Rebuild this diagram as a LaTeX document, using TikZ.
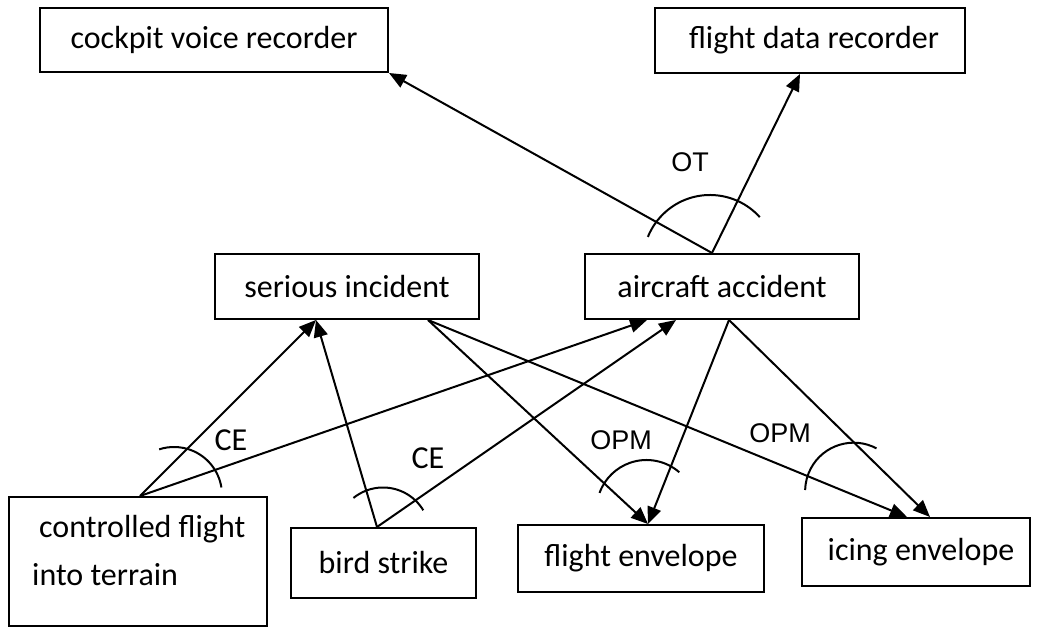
\documentclass[tikz,border=0pt]{standalone}
\usepackage{fontspec}
\setmainfont{Carlito}
\newfontfamily\arialfont{Liberation Sans}
\usetikzlibrary{arrows.meta}
\begin{document}
\begin{tikzpicture}[x=1pt,y=1pt,
  box/.style={draw, line width=2pt, inner sep=0pt, font=\fontsize{32}{38}\selectfont},
  link/.style={line width=2pt, -{Triangle[length=17pt,width=14pt]}},
  angarc/.style={line width=2pt},
  relsans/.style={font=\arialfont\fontsize{27}{32}\selectfont},
  relcal/.style={font=\fontsize{32}{38}\selectfont}]
\useasboundingbox (0,0) rectangle (1046,628);

% boxes
\node[box, minimum width=348pt, minimum height=64pt] (cvr) at (214,588) {\raisebox{-2pt}{cockpit voice recorder}};
\node[box, minimum width=310pt, minimum height=65pt] (fdr) at (810,587.5) {\raisebox{-2pt}{\hspace{8pt}flight data recorder}};
\node[box, minimum width=264pt, minimum height=65pt] (si)  at (347,341.5) {serious incident};
\node[box, minimum width=274pt, minimum height=65pt] (aa)  at (722,341.5) {aircraft accident};
\node[box, minimum width=258pt, minimum height=129pt] (cfit) at (138,66.5) {};
\node[relcal, anchor=north west, align=left, inner sep=0pt, font=\fontsize{32}{48}\selectfont]
  (cfittext) at ([xshift=24pt,yshift=-19pt]cfit.north west) {\hspace{7pt}controlled flight\\into terrain};
\node[box, minimum width=185pt, minimum height=70pt] (bs) at (383.5,65) {bird strike};
\node[box, minimum width=246pt, minimum height=67pt] (fe) at (641,69.5) {flight envelope};
\node[box, minimum width=228pt, minimum height=68pt] (ie) at (916,76) {\hspace{10pt}icing envelope};

% attachment points
\coordinate (aaTop)  at ([xshift=-10pt]aa.north);
\coordinate (aaIn1)  at ([xshift=-75pt]aa.south);
\coordinate (aaIn2)  at ([xshift=-46pt]aa.south);
\coordinate (aaOut)  at ([xshift=7pt]aa.south);
\coordinate (siIn)   at ([xshift=-31pt]si.south);
\coordinate (siOut)  at ([xshift=81pt]si.south);
\coordinate (fdrIn)  at ([xshift=-10pt]fdr.south);
\coordinate (cfitTop) at ([xshift=2pt]cfit.north);
\coordinate (bsTop)  at ([xshift=-6.5pt]bs.north);
\coordinate (feIn)   at ([xshift=7pt]fe.north);
\coordinate (ieIn1)  at ([xshift=-9pt]ie.north);
\coordinate (ieIn2)  at ([xshift=14pt]ie.north);

% connectors
\draw[link] (aaTop) -- (cvr.south east);
\draw[link] (aaTop) -- (fdrIn);
\draw[link] (cfitTop) -- (siIn);
\draw[link] (cfitTop) -- (aaIn1);
\draw[link] (bsTop) -- (siIn);
\draw[link] (bsTop) -- (aaIn2);
\draw[link] (siOut) -- (feIn);
\draw[link] (aaOut) -- (feIn);
\draw[link] (siOut) -- (ieIn1);
\draw[link] (aaOut) -- (ieIn2);

% relation arcs
\draw[angarc] (710,366) ++(42:67) arc[start angle=42, end angle=158, radius=67];
\draw[angarc] (174,133) ++(9:48) arc[start angle=9, end angle=108, radius=48];
\draw[angarc] (383,93.5) ++(31:47) arc[start angle=31, end angle=129, radius=47];
\draw[angarc] (646.5,118) ++(49:50) arc[start angle=49, end angle=160, radius=50];
\draw[angarc] (853.7,136.7) ++(62:48.6) arc[start angle=62, end angle=178.5, radius=48.6];

% relation labels
\node[relsans] (lblOT) at (690,465.5) {OT};
\node[relcal] (lblCE1) at (231,188) {CE};
\node[relcal] (lblCE2) at (428,170) {CE};
\node[relsans] (lblOPM1) at (621,188) {OPM};
\node[relsans] (lblOPM2) at (780,195) {OPM};
\end{tikzpicture}
\end{document}
